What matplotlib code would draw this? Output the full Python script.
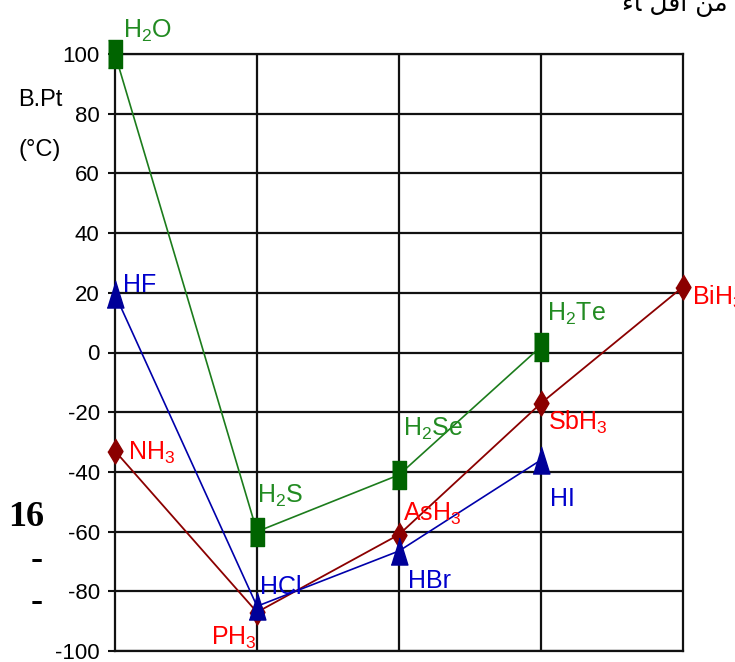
import matplotlib
matplotlib.use("Agg")
import matplotlib.pyplot as plt

# boiling points (deg C) of the hydrides, by period (2..6)
periods = [0, 1, 2, 3, 4]

g16_names = ["H$_2$O", "H$_2$S", "H$_2$Se", "H$_2$Te"]
g16_bp = [100, -60, -41, 2]

g17_names = ["HF", "HCl", "HBr", "HI"]
g17_bp = [19.5, -85, -66.5, -36]

g15_names = ["NH$_3$", "PH$_3$", "AsH$_3$", "SbH$_3$", "BiH$_3$"]
g15_bp = [-33, -87, -61, -17, 22]

yticks = [-100, -80, -60, -40, -20, 0, 20, 40, 60, 80, 100]

# label offsets (dx, dy) from each point, in data units
g16_off = [(0.056, 5.5), (0.0, 9.5), (0.03, 13), (0.04, 8.5)]
g17_off = [(0.054, 0.7), (0.02, 4), (0.06, -12.5), (0.06, -15.5)]
g15_off = [(0.092, -3), (0.0, -11), (0.03, 4.5), (0.05, -9), (0.06, -6)]
g15_ha = ["left", "right", "left", "left", "left"]

plt.rcParams["font.family"] = ["Liberation Sans", "DejaVu Sans"]
plt.rcParams["mathtext.fontset"] = "custom"
plt.rcParams["mathtext.rm"] = "Liberation Sans"
plt.rcParams["mathtext.it"] = "Liberation Sans"
plt.rcParams["axes.unicode_minus"] = False

# tall, narrow markers like the stretched original
rect = [(-0.26, -0.5), (0.26, -0.5), (0.26, 0.5), (-0.26, 0.5)]
tri = [(0, 0.5), (0.31, -0.5), (-0.31, -0.5)]
diam = [(0, 0.5), (0.3, 0), (0, -0.5), (-0.3, 0)]

fig = plt.figure(figsize=(7.35, 6.62), dpi=100)
ax = fig.add_axes([115 / 735, 1 - 651 / 662, 568 / 735, 597 / 662])

ax.set_xlim(0, 4)
ax.set_ylim(-100, 100)
ax.set_yticks(yticks)
ax.set_xticks([1, 2, 3])
ax.tick_params(axis="x", length=0, labelbottom=False)
ax.tick_params(axis="y", length=5, width=1.5, pad=6, labelsize=16, color="#111111")
ax.grid(True, color="#111111", linewidth=1.6)
ax.set_axisbelow(True)
for s in ax.spines.values():
    s.set_linewidth(1.6)
    s.set_color("#111111")

ax.plot(periods, g15_bp, color="#8b0000", lw=1.3, marker=diam, markersize=18,
        markerfacecolor="#8b0000", markeredgecolor="#8b0000", zorder=3, clip_on=False)
ax.plot(periods[:4], g16_bp, color="#1c7c1c", lw=1.2, marker=rect, markersize=19.5,
        markerfacecolor="#006400", markeredgecolor="#006400", zorder=4, clip_on=False)
ax.plot(periods[:4], g17_bp, color="#0000aa", lw=1.2, marker=tri, markersize=19.5,
        markerfacecolor="#000099", markeredgecolor="#000099", zorder=5, clip_on=False)

for i in range(4):
    ax.text(periods[i] + g16_off[i][0], g16_bp[i] + g16_off[i][1], g16_names[i],
            color="#228b22", fontsize=18, ha="left", va="baseline", clip_on=False, zorder=6)
    ax.text(periods[i] + g17_off[i][0], g17_bp[i] + g17_off[i][1], g17_names[i],
            color="#0000cc", fontsize=18, ha="left", va="baseline", clip_on=False, zorder=6)
for i in range(5):
    ax.text(periods[i] + g15_off[i][0], g15_bp[i] + g15_off[i][1], g15_names[i],
            color="#ff0000", fontsize=18, ha=g15_ha[i], va="baseline", clip_on=False, zorder=6)

fig.text(40 / 735, 1 - 100 / 662, "B.Pt", fontsize=17, ha="center", va="center")
fig.text(40 / 735, 1 - 150 / 662, "(°C)", fontsize=17, ha="center", va="center")

fig.text(26 / 735, 1 - 517 / 662, "16", fontsize=26, fontweight="bold",
         family="Liberation Serif", ha="center", va="center")
fig.text(37 / 735, 1 - 561 / 662, "-", fontsize=26, fontweight="bold",
         family="Liberation Serif", ha="center", va="center")
fig.text(37 / 735, 1 - 603 / 662, "-", fontsize=26, fontweight="bold",
         family="Liberation Serif", ha="center", va="center")

fig.text(622 / 735, 1 - 11 / 662, "\uFE80\uFE8E \uFEDE\uFED7\uFE83 \uFEE6\uFEE3",
         fontsize=18, family="DejaVu Sans", ha="left", va="baseline")

fig.savefig("out.png", dpi=100, facecolor="white")
